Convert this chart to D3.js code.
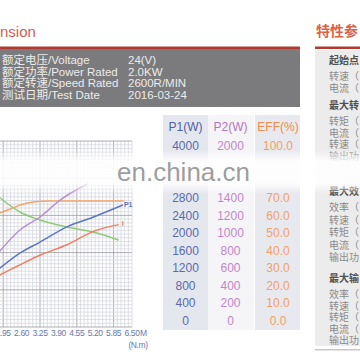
<!DOCTYPE html>
<html><head><meta charset="utf-8">
<script src="https://cdn.jsdelivr.net/npm/d3@7/dist/d3.min.js"></script>
<style>body{margin:0;background:#fff}svg{display:block}</style>
</head><body><svg id="c" width="360" height="360"></svg>
<script>
// ---- data ----
const titleText = "nsion";
const panelTitle = "特性参";
const specLabels = ["额定电压/Voltage","额定功率/Power Rated","额定转速/Speed Rated","测试日期/Test Date"];
const specValues = ["24(V)","2.0KW","2600R/MIN","2016-03-24"];
const tableHeaders = ["P1(W)","P2(W)","EFF(%)"];
const p1Ticks = [4000,2800,2400,2000,1600,1200,800,400,0];
const p2Ticks = [2000,1400,1200,1000,800,600,400,200,0];
const effTicks = [100,70,60,50,40,30,20,10,0];
const torqueTicks = [1.95,2.60,3.25,3.90,4.55,5.20,5.85,6.50];
// curves (torque N.m -> value)
const p1Torque = [1.80,2.54,3.25,4.20,5.12,6.18];
const p1Values = [1170,1530,1780,2130,2350,2630];
const p2Torque = [1.80,2.54,3.25,3.96,4.95];
const p2Values = [777,1029,1177,1371,1560];
const speedTorque = [1.80,2.54,3.25,4.20,5.12,6.03];
const speedValues = [2811,2469,2286,2126,2011,1829];
const currentTorque = [1.80,2.54,3.25,4.20,5.12,6.03];
const currentValues = [51,63,74,86,101,109];
const effTorque = [1.80,2.20,2.54,3.00,3.60,6.21];
const effValues = [61.1,63.4,65.7,67.4,68.0,68.0];
const panelSections = [
  {title:"起始点", items:["转速（","电流（"]},
  {title:"最大转", items:["转矩（","电流（","转速（","输出功"]},
  {title:"最大效", items:["效率（","转速（","转矩（","电流（","输出功"]},
  {title:"最大输", items:["效率（","转速（","转矩（","电流（","输出功"]}
];
const watermark = "en.china.cn";

// ---- drawing ----
const svg = d3.select("#c");
const FONT = "'Liberation Sans', Arial, 'Noto Sans CJK SC', sans-serif";
const CJK = "'Noto Sans CJK SC', 'Liberation Sans', sans-serif";
svg.append("rect").attr("width",360).attr("height",360).attr("fill","#fff");

// header left
svg.append("text").attr("x",0).attr("y",37)
  .attr("font-family",FONT).attr("font-size",15).attr("fill","#d4604f").text(titleText);
svg.append("rect").attr("x",0).attr("y",46.5).attr("width",300).attr("height",2.5).attr("fill","#b03a30");
svg.append("rect").attr("x",0).attr("y",49).attr("width",300).attr("height",58).attr("fill","#7b7b7d");
const specY = d3.scalePoint().domain(d3.range(specLabels.length)).range([64,99]);
svg.selectAll("text.sl").data(specLabels).join("text").attr("class","sl")
  .attr("x",2).attr("y",(d,i)=>specY(i)).attr("font-family",FONT).attr("font-size",11.5)
  .attr("fill","#ececec").text(d=>d);
svg.selectAll("text.sv").data(specValues).join("text").attr("class","sv")
  .attr("x",128).attr("y",(d,i)=>specY(i)).attr("font-family",FONT).attr("font-size",11.5)
  .attr("fill","#ececec").text(d=>d);

// right panel
svg.append("text").attr("x",316).attr("y",36).attr("font-family",CJK).attr("font-weight","bold")
  .attr("font-size",14).attr("fill","#d9634a").text(panelTitle);
svg.append("rect").attr("x",315).attr("y",46.5).attr("width",45).attr("height",2.5).attr("fill","#b03a30");
svg.append("rect").attr("x",315).attr("y",50).attr("width",45).attr("height",296).attr("fill","#ececec");
svg.append("rect").attr("x",315).attr("y",349).attr("width",45).attr("height",1.5).attr("fill","#c8c8c8");
const sectionStart = [64, 109, 195, 282];
const sectionStep = [12, 11.5, 12.5, 11.5];
panelSections.forEach((s,si)=>{
  const y0 = sectionStart[si];
  svg.append("text").attr("x",329).attr("y",y0).attr("font-family",FONT).attr("font-weight","bold")
    .attr("font-size",10).attr("fill","#505050").text(s.title);
  s.items.forEach((it,ii)=>{
    svg.append("text").attr("x",329).attr("y",y0+16+ii*sectionStep[si]).attr("font-family",FONT)
      .attr("font-size",10).attr("fill","#8a8a8a").text(it);
  });
});

// scales shared by table and chart
const yP1 = d3.scaleLinear().domain([0,4000]).range([320,145]);
const yP2 = d3.scaleLinear().domain([0,2000]).range([320,145]);
const yEff = d3.scaleLinear().domain([0,100]).range([320,145]);
const ySpeed = d3.scaleLinear().domain([0,4000]).range([320,145]);
const yCur = d3.scaleLinear().domain([0,200]).range([320,145]);

// table
const colX = [185.5,230.5,278];
svg.append("rect").attr("x",163).attr("y",115).attr("width",45).attr("height",215).attr("fill","#e5e7ee");
svg.append("rect").attr("x",208).attr("y",115).attr("width",46).attr("height",215).attr("fill","#f5f5f8");
svg.append("rect").attr("x",255).attr("y",115).attr("width",45).attr("height",215).attr("fill","#e8e9ee");
const hdrColors = ["#4f5fa6","#b274c2","#f08c50"];
const valColors = ["#5a6ab0","#c285cc","#f3a066"];
svg.selectAll("text.th").data(tableHeaders).join("text").attr("class","th")
  .attr("x",(d,i)=>colX[i]).attr("y",131).attr("text-anchor","middle")
  .attr("font-family",FONT).attr("font-size",12).attr("fill",(d,i)=>hdrColors[i]).text(d=>d);
[[p1Ticks,yP1,d=>d],[p2Ticks,yP2,d=>d],[effTicks,yEff,d=>d.toFixed(1)]].forEach(([arr,sc,fmt],ci)=>{
  svg.selectAll("text.tv"+ci).data(arr).join("text").attr("class","tv"+ci)
    .attr("x",colX[ci]).attr("y",d=>sc(d)+4.5).attr("text-anchor","middle")
    .attr("font-family",FONT).attr("font-size",12).attr("fill",valColors[ci]).text(fmt);
});

// chart
const x = d3.scaleLinear().domain([3.25,6.50]).range([40,132]);
const gY = d3.scaleLinear().domain([0,50]).range([327,141]);
const chart = svg.append("g");
const tMin = x.invert(0), tMax = 6.50;
const minorX = d3.range(Math.ceil((tMin-1.95)/0.13)*0.13+1.95, tMax+0.001, 0.13);
chart.selectAll("line.vx").data(minorX).join("line")
  .attr("x1",d=>x(d)).attr("x2",d=>x(d)).attr("y1",gY(0)).attr("y2",gY(50))
  .attr("stroke",d=>{const k=Math.round((d-1.95)/0.13); return (k%10===0)?"#9a9aa2":"#d6d8df";})
  .attr("stroke-width",0.8);
chart.selectAll("line.hy").data(d3.range(0,51)).join("line")
  .attr("x1",0).attr("x2",x(6.50)).attr("y1",d=>gY(d)).attr("y2",d=>gY(d))
  .attr("stroke",d=>d%10===0?"#9a9aa2":"#d6d8df").attr("stroke-width",0.8);

chart.selectAll("text.xt").data(torqueTicks).join("text")
  .attr("x",d=>x(d)).attr("y",336).attr("text-anchor","middle").attr("font-family",FONT)
  .attr("font-size",8.5).attr("letter-spacing",-0.4).attr("fill","#6a76ae").text(d=>d.toFixed(2));
chart.append("text").attr("x",x(6.50)+8).attr("y",336).attr("font-family",FONT).attr("font-size",8.5)
  .attr("fill","#6a76ae").text("M");
chart.append("text").attr("x",138).attr("y",348).attr("text-anchor","middle").attr("font-family",FONT)
  .attr("font-size",8.5).attr("letter-spacing",-0.4).attr("fill","#6a76ae").text("(N.m)");

const series = [
  {t:effTorque,v:effValues,y:yEff,c:"#f6a468"},
  {t:speedTorque,v:speedValues,y:ySpeed,c:"#8fcb78"},
  {t:p2Torque,v:p2Values,y:yP2,c:"#b890d4"},
  {t:currentTorque,v:currentValues,y:yCur,c:"#f27d62"},
  {t:p1Torque,v:p1Values,y:yP1,c:"#5c76c6"}
];
series.forEach(s=>{
  const line = d3.line().x(d=>x(d[0])).y(d=>s.y(d[1])).curve(d3.curveMonotoneX);
  chart.append("path").attr("d",line(d3.zip(s.t,s.v))).attr("fill","none")
    .attr("stroke",s.c).attr("stroke-width",1.5);
});
chart.append("text").attr("x",x(p1Torque[5])+1).attr("y",yP1(p1Values[5])+2).attr("font-family",FONT)
  .attr("font-size",7).attr("font-weight","bold").attr("fill","#5c76c6").text("P1");
chart.append("text").attr("x",x(currentTorque[5])+3).attr("y",yCur(currentValues[5])+1).attr("font-family",FONT)
  .attr("font-size",7).attr("font-weight","bold").attr("fill","#f27d62").text("I");

// watermark band
const defs = svg.append("defs");
const grad = defs.append("linearGradient").attr("id","wm").attr("x1",0).attr("x2",0).attr("y1",0).attr("y2",1);
grad.append("stop").attr("offset","0%").attr("stop-color","#fff").attr("stop-opacity",0);
grad.append("stop").attr("offset","25%").attr("stop-color","#fff").attr("stop-opacity",0.9);
grad.append("stop").attr("offset","75%").attr("stop-color","#fff").attr("stop-opacity",0.9);
grad.append("stop").attr("offset","100%").attr("stop-color","#fff").attr("stop-opacity",0);
svg.append("rect").attr("x",0).attr("y",150).attr("width",360).attr("height",44).attr("fill","url(#wm)");
svg.append("text").attr("x",117).attr("y",181).attr("font-family",FONT).attr("font-size",26)
  .attr("fill","#8c8c8c").attr("fill-opacity",0.85).text(watermark);
</script></body></html>
